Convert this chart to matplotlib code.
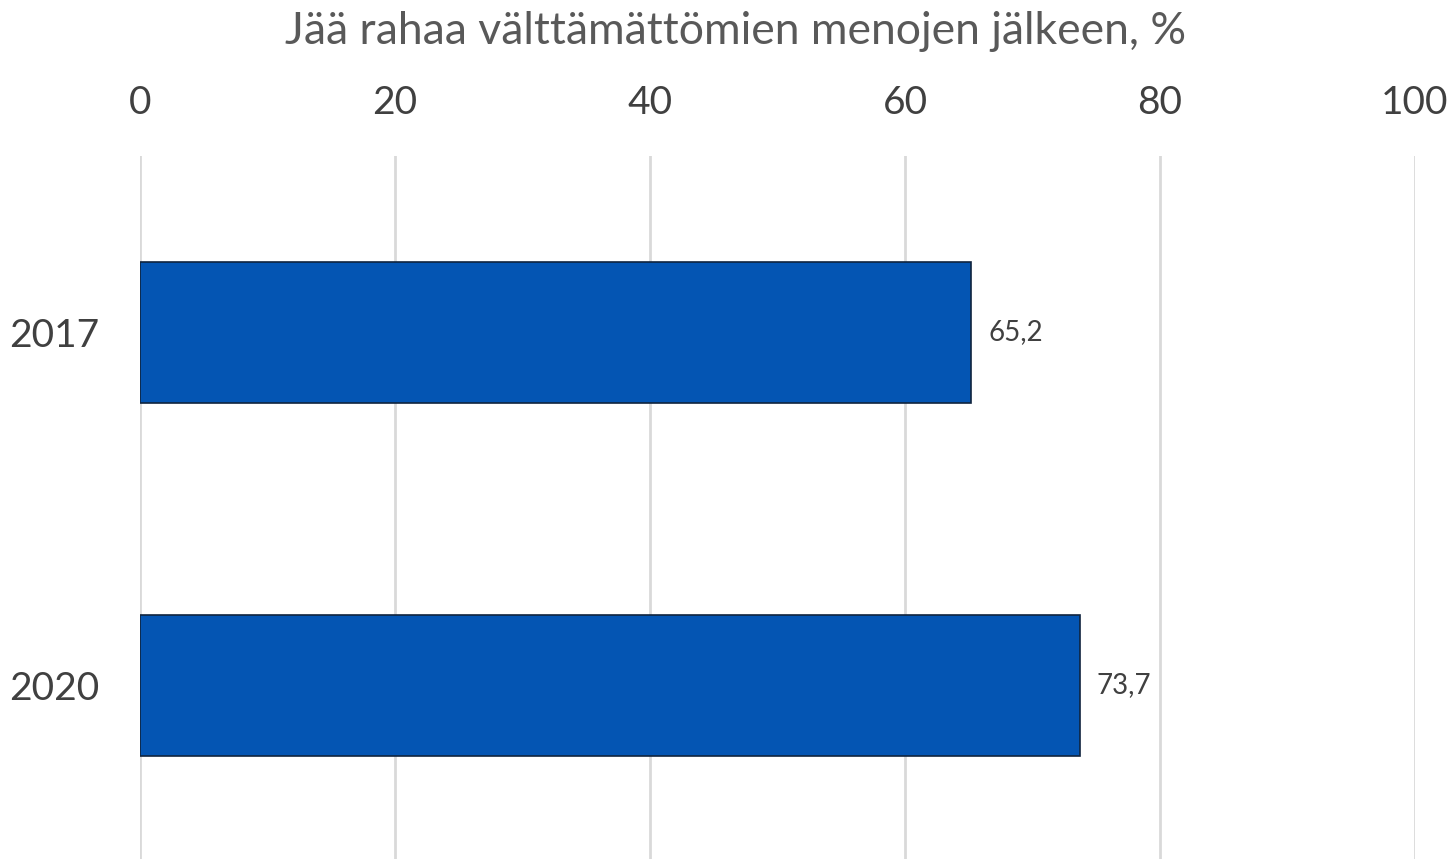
import matplotlib.pyplot as plt
import numpy as np

plt.rcParams['font.family'] = ['Lato', 'DejaVu Sans']

# data
years = ["2017", "2020"]
values = [65.2, 73.7]
xticks = [0, 20, 40, 60, 80, 100]
title = "Jää rahaa välttämättömien menojen jälkeen, %"

fig = plt.figure(figsize=(14.53, 8.59), dpi=100)
ax = fig.add_axes([140 / 1453, 0.0, 1275 / 1453, 1 - 156 / 859])

ypos = np.arange(len(years))
bars = ax.barh(ypos, values, height=0.4, color="#0455B3",
               edgecolor="#10243E", linewidth=1.2, zorder=3)

for b, v in zip(bars, values):
    ax.annotate(f"{v:.1f}".replace(".", ","),
                (b.get_width(), b.get_y() + b.get_height() / 2),
                xytext=(17, 0), textcoords="offset pixels",
                ha="left", va="center", fontsize=20, color="#404040")

ax.set_xlim(0, 100)
ax.set_ylim(1.4915, -0.5)
ax.set_xticks(xticks)
ax.set_yticks(ypos)
ax.set_yticklabels(years)
ax.xaxis.tick_top()
ax.tick_params(axis="x", length=0, pad=25, labelsize=28, labelcolor="#404040")
ax.tick_params(axis="y", length=0, pad=29, labelsize=28, labelcolor="#404040")
ax.grid(axis="x", color="#D9D9D9", linewidth=2, zorder=0)
for s in ax.spines.values():
    s.set_visible(False)

fig.text(736 / 1453, 1 - 32 / 859, title, ha="center", va="center",
         fontsize=32, color="#595959")

fig.savefig("out.png", dpi=100)
